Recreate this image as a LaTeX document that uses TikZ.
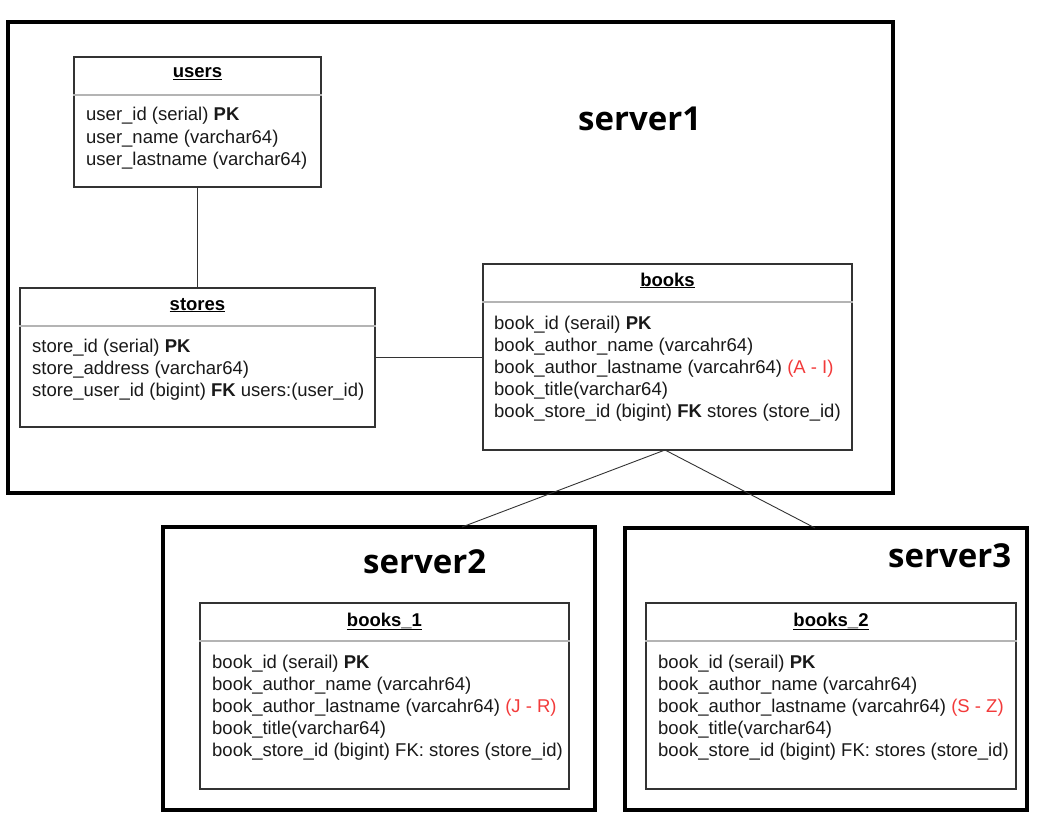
\documentclass[tikz,border=0pt]{standalone}
\usepackage{fontspec}
\setmainfont{Liberation Sans}
\newfontfamily\serverfont{Open Sans}
\definecolor{rangered}{HTML}{F23A3A}
\definecolor{boxline}{HTML}{333333}
\definecolor{sepline}{HTML}{B4B4B4}
\begin{document}
\begin{tikzpicture}[x=1pt,y=-1pt,
  server/.style={draw=black,line width=3.6pt,inner sep=0pt},
  tbl/.style={draw=boxline,line width=1.3pt,inner sep=0pt},
  title/.style={anchor=base,inner sep=0pt,font=\fontsize{18.5}{22}\selectfont\bfseries},
  row/.style={anchor=base west,inner sep=0pt,font=\fontsize{18.5}{22}\selectfont,text=black!90},
  servername/.style={anchor=base west,inner sep=0pt,font=\serverfont\bfseries\fontsize{33}{38}\selectfont},
  link/.style={draw=black!80,line width=0.9pt},
  sep/.style={draw=sepline,line width=1.2pt}]
\useasboundingbox (0,0) rectangle (1062,832);

% servers
\node[server,minimum width=885pt,minimum height=471pt] (srv1) at (450.5,257.5) {};
\node[server,minimum width=432pt,minimum height=283pt] (srv2) at (379,668.5) {};
\node[server,minimum width=402pt,minimum height=282pt] (srv3) at (826,669) {};
\node[servername] (srv1name) at (578,131) {server1};
\node[servername] (srv2name) at (363,573) {server2};
\node[servername] (srv3name) at (888,567) {server3};

% users
\node[tbl,minimum width=247pt,minimum height=130pt] (users) at (197.5,122) {};
\draw[sep] (users.west |- 0,95) -- (users.east |- 0,95);
\node[title] (usersT) at (197.5,78) {\underline{users}};
\node[row] (u1) at (86,121) {user\_id (serial) \textbf{PK}};
\node[row] (u2) at (86,143) {user\_name (varchar64)};
\node[row] (u3) at (86,165) {user\_lastname (varchar64)};

% stores
\node[tbl,minimum width=355pt,minimum height=139pt] (stores) at (197.5,357.5) {};
\draw[sep] (stores.west |- 0,326) -- (stores.east |- 0,326);
\node[title] (storesT) at (197.5,310) {\underline{stores}};
\node[row] (s1) at (32,352) {store\_id (serial) \textbf{PK}};
\node[row] (s2) at (32,374) {store\_address (varchar64)};
\node[row] (s3) at (32,396) {store\_user\_id (bigint) \textbf{FK} users:(user\_id)};

% books
\node[tbl,minimum width=369pt,minimum height=186pt] (books) at (667.5,357) {};
\draw[sep] (books.west |- 0,302) -- (books.east |- 0,302);
\node[title] (booksT) at (667.5,286) {\underline{books}};
\node[row] (b1) at (494,329) {book\_id (serail) \textbf{PK}};
\node[row] (b2) at (494,351) {book\_author\_name (varcahr64)};
\node[row] (b3) at (494,373) {book\_author\_lastname (varcahr64) \textcolor{rangered}{(A - I)}};
\node[row] (b4) at (494,395) {book\_title(varchar64)};
\node[row] (b5) at (494,417) {book\_store\_id (bigint) \textbf{FK} stores (store\_id)};

% books_1
\node[tbl,minimum width=369pt,minimum height=186pt] (booksA) at (384.5,696) {};
\draw[sep] (booksA.west |- 0,641) -- (booksA.east |- 0,641);
\node[title] (booksAT) at (384.5,626) {\underline{books\_1}};
\node[row] (a1) at (212,668) {book\_id (serail) \textbf{PK}};
\node[row] (a2) at (212,690) {book\_author\_name (varcahr64)};
\node[row] (a3) at (212,712) {book\_author\_lastname (varcahr64) \textcolor{rangered}{(J - R)}};
\node[row] (a4) at (212,734) {book\_title(varchar64)};
\node[row] (a5) at (212,756) {book\_store\_id (bigint) FK: stores (store\_id)};

% books_2
\node[tbl,minimum width=370pt,minimum height=186pt] (booksB) at (831,696) {};
\draw[sep] (booksB.west |- 0,641) -- (booksB.east |- 0,641);
\node[title] (booksBT) at (831,626) {\underline{books\_2}};
\node[row] (c1) at (658,668) {book\_id (serail) \textbf{PK}};
\node[row] (c2) at (658,690) {book\_author\_name (varcahr64)};
\node[row] (c3) at (658,712) {book\_author\_lastname (varcahr64) \textcolor{rangered}{(S - Z)}};
\node[row] (c4) at (658,734) {book\_title(varchar64)};
\node[row] (c5) at (658,756) {book\_store\_id (bigint) FK: stores (store\_id)};

% relations
\coordinate (split) at (665,450);
\coordinate (srv2top) at (462,527);
\coordinate (srv3top) at (815,528);
\draw[link] (users.south) -- (stores.north);
\draw[link] (stores.east) -- (stores.east -| books.west);
\draw[link] (split) -- (srv2top);
\draw[link] (split) -- (srv3top);
\end{tikzpicture}
\end{document}
